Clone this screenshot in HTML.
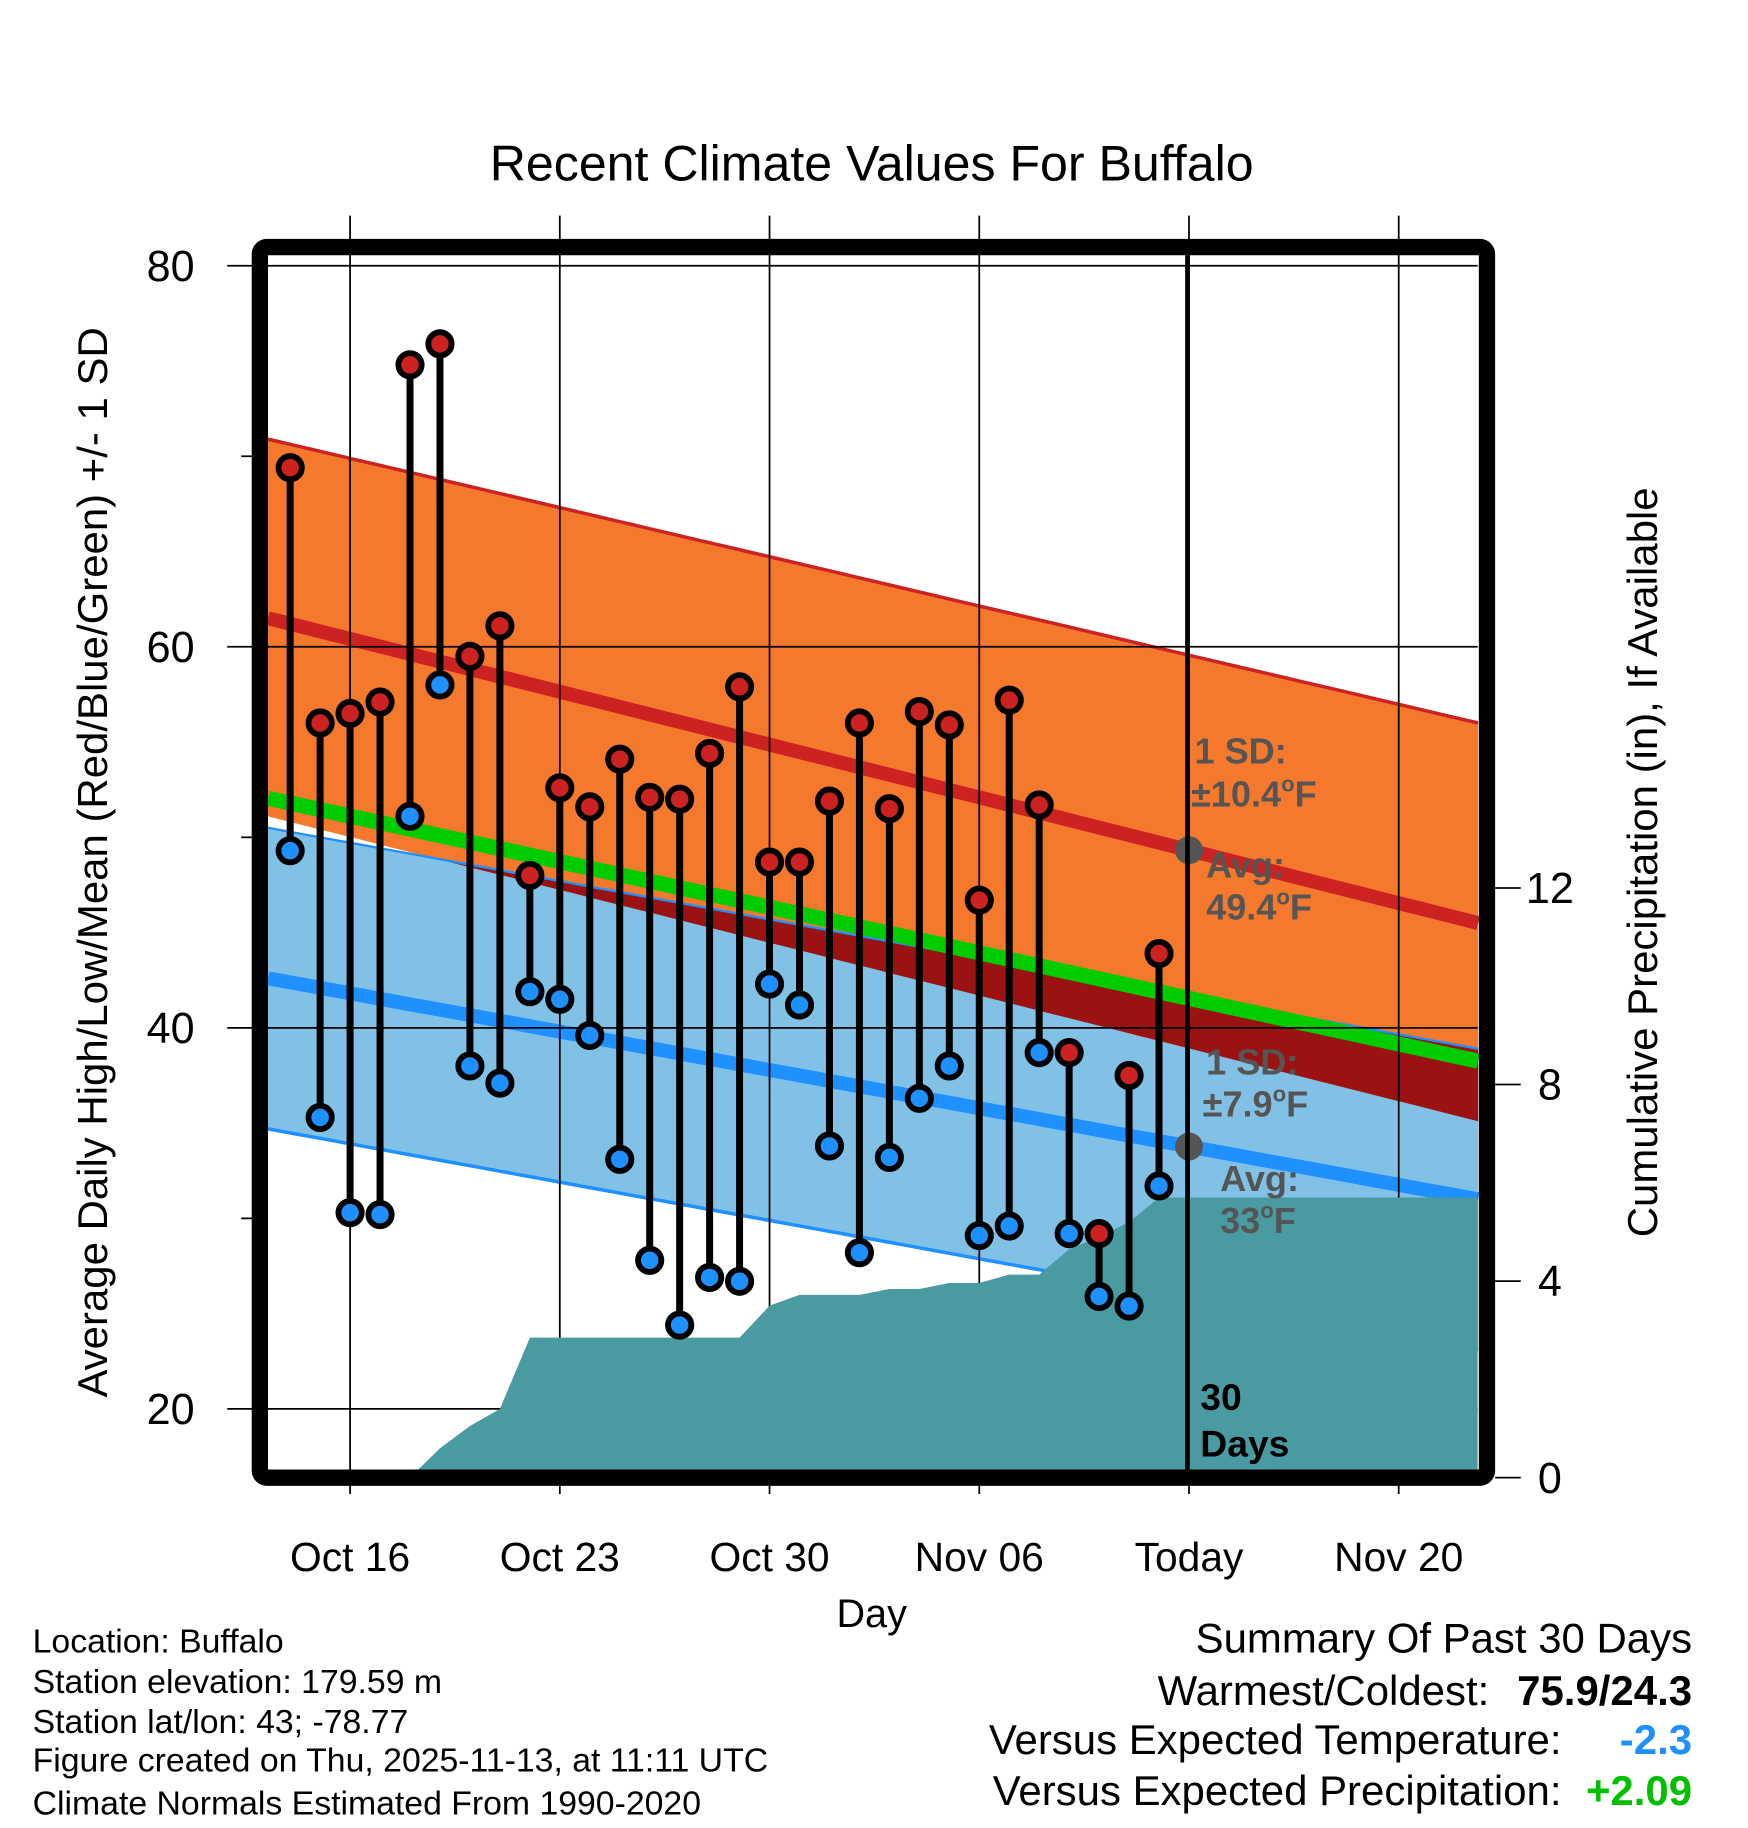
<!DOCTYPE html>
<html><head><meta charset="utf-8"><style>
html,body{margin:0;padding:0;background:#fff}
svg{display:block;font-family:"Liberation Sans",Arial,sans-serif}
</style></head><body>
<svg id="chart" width="1748" height="1828" viewBox="0 0 1500 1568.6" xmlns="http://www.w3.org/2000/svg">
<text x="748" y="155" font-size="43" text-anchor="middle">Recent Climate Values For Buffalo</text>
<g id="bands"></g>
<g id="grid"></g>
<g id="precip"></g>
<g id="marks"></g>
<g id="annot">
<line x1="1019" y1="219" x2="1019" y2="1262" stroke="#000" stroke-width="4"/>
<g font-weight="bold" font-size="31" fill="#555">
<text x="1025" y="655">1 SD:</text>
<text x="1022" y="692">±10.4<tspan font-size="19" dy="-13">o</tspan><tspan dy="13">F</tspan></text>
<text x="1035" y="753">Avg:</text>
<text x="1035" y="789">49.4<tspan font-size="19" dy="-13">o</tspan><tspan dy="13">F</tspan></text>
<text x="1035" y="922">1 SD:</text>
<text x="1032" y="958">±7.9<tspan font-size="19" dy="-13">o</tspan><tspan dy="13">F</tspan></text>
<text x="1047" y="1022">Avg:</text>
<text x="1047" y="1058">33<tspan font-size="19" dy="-13">o</tspan><tspan dy="13">F</tspan></text>
</g>
<text x="1030" y="1210" font-size="32" font-weight="bold">30</text>
<text x="1030" y="1250" font-size="32" font-weight="bold">Days</text>
</g>
<rect x="223" y="212" width="1053" height="1056" rx="6" fill="none" stroke="#000" stroke-width="14"/>
<g id="axes" font-size="37"></g>
<text x="748" y="1396" font-size="34" text-anchor="middle">Day</text>
<text transform="translate(92,740) rotate(-90)" font-size="36" text-anchor="middle">Average Daily High/Low/Mean (Red/Blue/Green) +/- 1 SD</text>
<text transform="translate(1422,740) rotate(-90)" font-size="36" text-anchor="middle">Cumulative Precipitation (in), If Available</text>
<g font-size="29">
<text x="28" y="1418">Location: Buffalo</text>
<text x="28" y="1453">Station elevation: 179.59 m</text>
<text x="28" y="1487">Station lat/lon: 43; -78.77</text>
<text x="28" y="1520">Figure created on Thu, 2025-11-13, at 11:11 UTC</text>
<text x="28" y="1557">Climate Normals Estimated From 1990-2020</text>
</g>
<g font-size="36" text-anchor="end">
<text x="1452" y="1418">Summary Of Past 30 Days</text>
<text x="1278" y="1463">Warmest/Coldest:</text>
<text x="1452" y="1463" font-weight="bold">75.9/24.3</text>
<text x="1340" y="1505">Versus Expected Temperature:</text>
<text x="1452" y="1505" font-weight="bold" fill="#1e90ff">-2.3</text>
<text x="1340" y="1549">Versus Expected Precipitation:</text>
<text x="1452" y="1549" font-weight="bold" fill="#00c000">+2.09</text>
</g>
</svg>
<script>
const dayLabels=["Oct14","Oct15","Oct16","Oct17","Oct18","Oct19","Oct20","Oct21","Oct22","Oct23","Oct24","Oct25","Oct26","Oct27","Oct28","Oct29","Oct30","Oct31","Nov1","Nov2","Nov3","Nov4","Nov5","Nov6","Nov7","Nov8","Nov9","Nov10","Nov11","Nov12"];
const highs=[69.4,56.0,56.5,57.1,74.8,75.9,59.5,61.1,48.0,52.6,51.6,54.1,52.1,52.0,54.4,57.9,48.7,48.7,51.9,56.0,51.5,56.6,55.9,46.7,57.2,51.7,38.7,29.2,37.5,43.9];
const lows=[49.3,35.3,30.3,30.2,51.1,58.0,38.0,37.1,41.9,41.5,39.6,33.1,27.8,24.4,26.9,26.7,42.3,41.2,33.8,28.2,33.2,36.3,38.0,29.1,29.6,38.7,29.2,25.9,25.4,31.7];
const precip=[0,0,0,0,0,0.6,1.05,1.4,2.85,2.85,2.85,2.85,2.85,2.85,2.85,2.85,3.5,3.72,3.72,3.72,3.84,3.84,3.96,3.96,4.13,4.13,4.65,4.9,5.2,5.7];
const normHighAvg=[61.5,45.5];
const normHighUpper=[70.9,56.0];
const normLowAvg=[42.6,31.0];
const sdHigh=[10.4];
const sdLow=[7.9];
const xTickLabels=["Oct 16","Oct 23","Oct 30","Nov 06","Today","Nov 20"];
const xTickDays=[2,9,16,23,30,37];
const yTicks=[80,60,40,20];
const yMinor=[70,50,30];
const y2Ticks=[12,8,4,0];

const NS="http://www.w3.org/2000/svg";
const D0=-0.74,D1=39.65;
const xs=d=>249+d*25.71;
const ys=v=>228+(80-v)*16.35;
const yp=p=>1268-p*42.17;
const L=230,R=1268,T=219,B=1261;
function mk(tag,attrs,parent){const e=document.createElementNS(NS,tag);for(const k in attrs)e.setAttribute(k,attrs[k]);parent.appendChild(e);return e;}
const lerp=(a,t)=>a[0]+(a[1]-a[0])*t;
const tOf=d=>(d-D0)/(D1-D0);
const bands=document.getElementById('bands');
const N=40;const pts={hu:[],hl:[],lu:[],ll:[],ha:[],la:[],m:[]};
for(let i=0;i<=N;i++){const d=D0+(D1-D0)*i/N,t=i/N,x=xs(d);
const ha=lerp(normHighAvg,t),la=lerp(normLowAvg,t);
pts.hu.push([x,ys(lerp(normHighUpper,t))]);pts.hl.push([x,ys(ha-sdHigh[0])]);
pts.lu.push([x,ys(la+sdLow[0])]);pts.ll.push([x,ys(la-sdLow[0])]);
pts.ha.push([x,ys(ha)]);pts.la.push([x,ys(la)]);pts.m.push([x,ys((ha+la)/2)]);}
const ps=a=>a.map(p=>p[0].toFixed(1)+','+p[1].toFixed(1)).join(' ');
let e;
e=mk('polygon',{points:ps(pts.hu)+' '+ps(pts.hl.slice().reverse()),fill:'#f5792d'},bands);


e=mk('polygon',{points:ps(pts.lu)+' '+ps(pts.ll.slice().reverse()),fill:'#82c1e6'},bands);


const ovTop=[],ovBot=[];
for(let i=0;i<=N;i++){const top=pts.lu[i][1],bot=pts.hl[i][1];if(bot>top){ovTop.push([pts.lu[i][0],top]);ovBot.push([pts.lu[i][0],bot]);}}
if(ovTop.length){e=mk('polygon',{points:ps(ovTop)+' '+ps(ovBot.slice().reverse()),fill:'#9b1212'},bands);

}
e=mk('polyline',{points:ps(pts.hu),fill:'none',stroke:'#cc2222','stroke-width':3},bands);


e=mk('polyline',{points:ps(pts.lu),fill:'none',stroke:'#1e90ff','stroke-width':2},bands);


e=mk('polyline',{points:ps(pts.ll),fill:'none',stroke:'#1e90ff','stroke-width':3},bands);


e=mk('polyline',{points:ps(pts.ha),fill:'none',stroke:'#cc2222','stroke-width':12},bands);


e=mk('polyline',{points:ps(pts.la),fill:'none',stroke:'#1e90ff','stroke-width':12},bands);


e=mk('polyline',{points:ps(pts.m),fill:'none',stroke:'#00cc00','stroke-width':13},bands);



const grid=document.getElementById('grid');
yTicks.forEach(v=>{e=mk('line',{x1:195,x2:R,y1:ys(v),y2:ys(v),stroke:'#000','stroke-width':1.5},grid);

});
xTickDays.forEach(d=>{e=mk('line',{x1:xs(d),x2:xs(d),y1:185,y2:1282,stroke:'#000','stroke-width':1.5},grid);

});

const pg=document.getElementById('precip');
let pp=[[xs(0),yp(0)]];precip.forEach((p,i)=>pp.push([xs(i),yp(p)]));
pp.push([R,yp(precip[precip.length-1])]);pp.push([R,B]);pp.push([xs(0),B]);
e=mk('polygon',{points:ps(pp),fill:'#4a9aa2'},pg);



const mg=document.getElementById('marks');
highs.forEach((h,i)=>{const x=xs(i);
e=mk('line',{x1:x,x2:x,y1:ys(h),y2:ys(lows[i]),stroke:'#000','stroke-width':6},mg);

});
highs.forEach((h,i)=>{const x=xs(i);
e=mk('circle',{cx:x,cy:ys(lows[i]),r:10,fill:'#1e90ff',stroke:'#000','stroke-width':5},mg);


e=mk('circle',{cx:x,cy:ys(h),r:10,fill:'#cc2222',stroke:'#000','stroke-width':5},mg);

});
const tt=tOf(30);
e=mk('circle',{cx:xs(30),cy:ys(lerp(normHighAvg,tt)),r:12,fill:'#555'},mg);


e=mk('circle',{cx:xs(30),cy:ys(lerp(normLowAvg,tt)),r:12,fill:'#555'},mg);



const ax=document.getElementById('axes');
yTicks.forEach(v=>{e=mk('text',{x:167,y:ys(v)+13,'text-anchor':'end'},ax);e.textContent=v;

});
yMinor.forEach(v=>{e=mk('line',{x1:207,x2:217,y1:ys(v),y2:ys(v),stroke:'#000','stroke-width':1.5},ax);

});
y2Ticks.forEach(p=>{e=mk('line',{x1:1283,x2:1305,y1:yp(p),y2:yp(p),stroke:'#000','stroke-width':1.5},ax);


e=mk('text',{x:1330,y:yp(p)+13,'text-anchor':'middle'},ax);e.textContent=p;

});
xTickLabels.forEach((lab,i)=>{e=mk('text',{x:xs(xTickDays[i]),y:1348,'text-anchor':'middle','font-size':35},ax);e.textContent=lab;

});
</script>
</body></html>
